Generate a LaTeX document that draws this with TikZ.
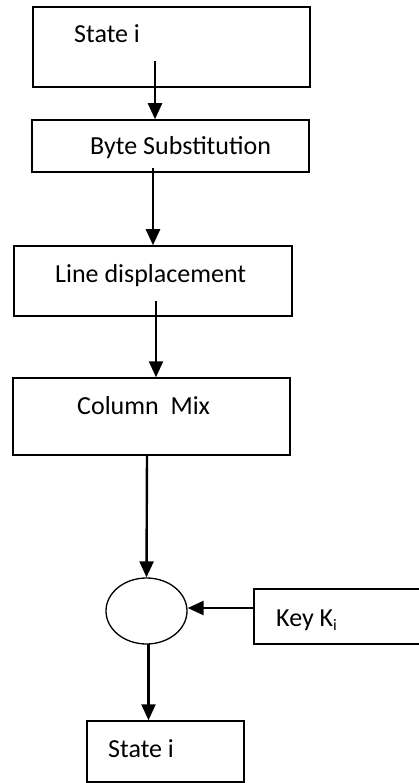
\documentclass[tikz,border=0pt]{standalone}
\usepackage{fontspec}
\setmainfont{Carlito}
\usetikzlibrary{shapes.geometric,arrows.meta}
\tikzset{
  box/.style={draw, line width=1.5pt, rectangle, inner sep=0pt},
  lbl/.style={anchor=base west, inner sep=0pt, font=\fontsize{26}{30}\selectfont},
  arr/.style={line width=2.4pt, -{Triangle[width=14pt,length=16pt]}},
}
\begin{document}
\begin{tikzpicture}[x=1pt,y=-1pt]
\useasboundingbox (0,0) rectangle (419,783);
% boxes
\node[box, minimum width=277pt, minimum height=80pt] (b1) at (171.5,47) {};
\node[box, minimum width=277pt, minimum height=52pt] (b2) at (170.5,146) {};
\node[box, minimum width=278pt, minimum height=70pt] (b3) at (153,281) {};
\node[box, minimum width=277pt, minimum height=77pt] (b4) at (151.5,416.5) {};
\node[draw, line width=1.3pt, ellipse, inner sep=0pt, minimum width=81pt, minimum height=66pt] (c) at (146.5,611) {};
\node[box, minimum width=186pt, minimum height=55pt] (key) at (347,616.5) {};
\node[box, minimum width=157pt, minimum height=61pt] (b5) at (165.5,751.5) {};
% labels
\node[lbl] (t1) at (74,43) {State i};
\node[lbl] (t2) at (90,155) {Byte Substitution};
\node[lbl] (t3) at (55,282) {Line displacement};
\node[lbl] (t4) at (77,414) {Column~~Mix};
\node[lbl] (t5) at (276,626) {Key K\raisebox{-0.18em}{\fontsize{16}{16}\selectfont i}};
\node[lbl] (t6) at (108,757) {State i};
% connectors
\coordinate (s1) at (155,61);
\coordinate (s2) at (153,168);
\coordinate (s3) at (156,301);
\coordinate (s4) at (147,455);
\coordinate (s6) at (148.5,644);
\draw[arr] (s1) -- (s1 |- b2.north);
\draw[arr] (s2) -- (s2 |- b3.north);
\draw[arr] (s3) -- (s3 |- b4.north);
\draw[arr] (s4) -- (c.north);
\draw[arr] (key.west |- 0,608) -- (c.east |- 0,608);
\draw[arr] (s6) -- (s6 |- b5.north);
\end{tikzpicture}
\end{document}
